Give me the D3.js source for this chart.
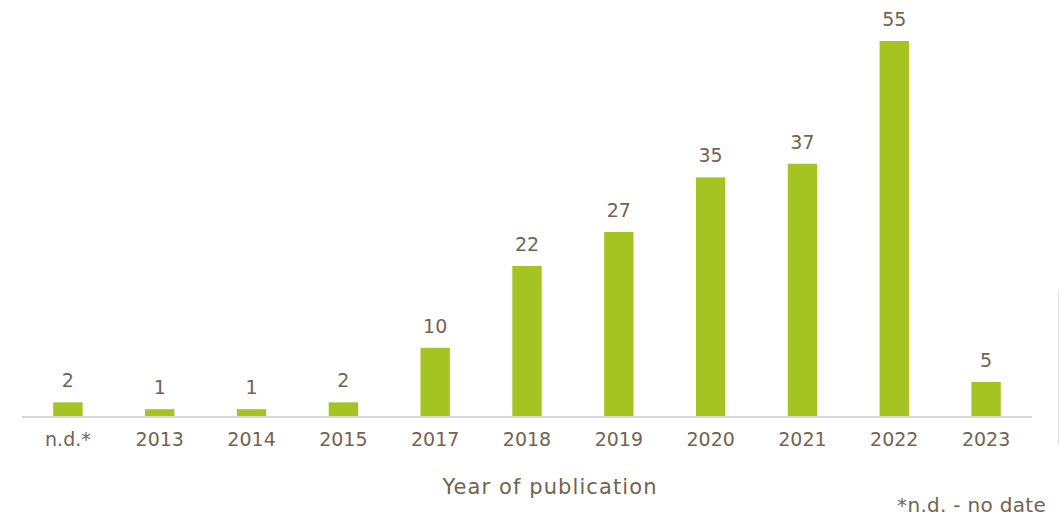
<!DOCTYPE html>
<html>
<head>
<meta charset="utf-8">
<script src="https://cdn.jsdelivr.net/npm/d3@7"></script>
<style>
  html, body { margin: 0; padding: 0; background: #fff; }
  svg { display: block; }
</style>
</head>
<body>
<div id="chart"></div>
<script>
(function() {
    'use strict';

    // Publications per year
    var categories = ['n.d.*', '2013', '2014', '2015', '2017', '2018', '2019', '2020', '2021', '2022', '2023'];
    var counts = [2, 1, 1, 2, 10, 22, 27, 35, 37, 55, 5];
    var axisTitle = 'Year of publication';
    var footnote = '*n.d. - no date';

    var width = 1060, height = 517;
    var margin = { top: 41, right: 28, bottom: 101, left: 22 };
    var textColor = '#736352';
    var barColor = '#a5c422';
    var font = '"DejaVu Sans", Verdana, sans-serif';

    var svg = d3.select('#chart').append('svg')
        .attr('width', width)
        .attr('height', height)
        .style('font-family', font);

    var x = d3.scaleBand()
        .domain(categories)
        .range([margin.left, width - margin.right])
        .paddingInner(0.68)
        .paddingOuter(0.34);

    var y = d3.scaleLinear()
        .domain([0, 55])
        .range([height - margin.bottom, margin.top]);

    var data = categories.map(function(c, i) { return { cat: c, value: counts[i] }; });

    svg.append('g')
        .selectAll('rect')
        .data(data)
        .join('rect')
        .attr('x', function(d) { return x(d.cat); })
        .attr('y', function(d) { return y(d.value); })
        .attr('width', x.bandwidth())
        .attr('height', function(d) { return y(0) - y(d.value); })
        .attr('fill', barColor);

    // value labels
    svg.append('g')
        .selectAll('text')
        .data(data)
        .join('text')
        .attr('x', function(d) { return x(d.cat) + x.bandwidth() / 2; })
        .attr('y', function(d) { return y(d.value) - 15; })
        .attr('text-anchor', 'middle')
        .attr('fill', textColor)
        .style('font-size', '19px')
        .text(function(d) { return d.value; });

    // x axis
    var axis = svg.append('g')
        .attr('transform', 'translate(0,' + (y(0) + 1) + ')')
        .call(d3.axisBottom(x).tickSize(0).tickPadding(16));
    axis.select('.domain')
        .attr('stroke', '#d9d9d9')
        .attr('stroke-width', 2)
        .attr('d', 'M' + margin.left + ',0H' + (width - margin.right));
    axis.selectAll('.tick text')
        .attr('fill', textColor)
        .style('font-family', font)
        .style('font-size', '19px');

    svg.append('text')
        .attr('x', 550)
        .attr('y', 494)
        .attr('text-anchor', 'middle')
        .attr('fill', textColor)
        .style('font-size', '21px')
        .style('letter-spacing', '1.1px')
        .text(axisTitle);

    svg.append('text')
        .attr('x', 1046)
        .attr('y', 512)
        .attr('text-anchor', 'end')
        .attr('fill', textColor)
        .style('font-size', '20px')
        .style('letter-spacing', '0.3px')
        .text(footnote);

    // faint frame edge at the right
    svg.append('line')
        .attr('x1', 1058.5).attr('x2', 1058.5)
        .attr('y1', 290).attr('y2', 445)
        .attr('stroke', '#e4e4e4')
        .attr('stroke-width', 1);
})();
</script>
</body>
</html>
